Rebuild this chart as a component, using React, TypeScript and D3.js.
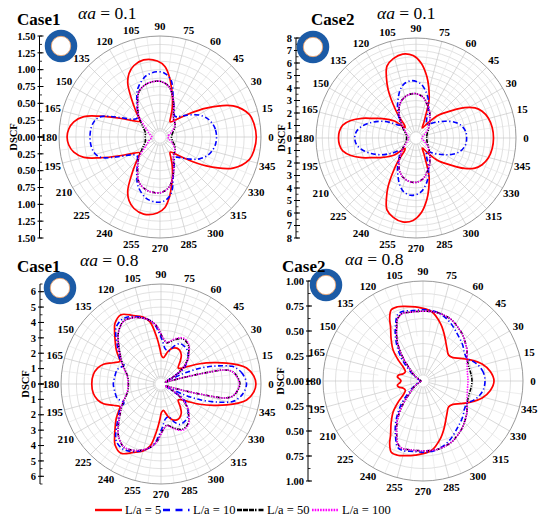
import React from "react";
import * as d3 from "d3";

type Pt = [number, number];

// ---------- data (angle in degrees 0..180, DSCF value); lower half mirrors upper half ----------
const angleTicks = d3.range(0, 360, 15);
const seriesNames = ["L/a = 5", "L/a = 10", "L/a = 50", "L/a = 100"];

// Case1, alpha a = 0.1
const p1L5: Pt[] = [[0,1.43],[8,1.41],[14,1.37],[23,1.18],[32,0.81],[40,0.51],[48,0.34],[56,0.27],[62,0.34],[66,0.44],[72,0.6],[76,0.72],[81,0.9],[86,1.05],[92,1.13],[102,1.17],[110,1.13],[116,1.05],[121,0.93],[127,0.7],[132,0.55],[137,0.44],[142,0.38],[148,0.45],[155,0.66],[161,0.95],[165,1.17],[170,1.3],[175,1.36],[180,1.38]];
const p1L10: Pt[] = [[0,0.84],[8,0.83],[15,0.8],[22,0.75],[29,0.67],[36,0.56],[43,0.46],[50,0.39],[55,0.38],[62,0.45],[70,0.58],[79,0.86],[86,0.95],[93,0.97],[103,0.93],[114,0.8],[120,0.69],[126,0.58],[134,0.48],[141,0.44],[148,0.5],[154,0.66],[161,0.93],[166,1.0],[172,1.03],[180,1.04]];
const p1L50: Pt[] = [[0,0.17],[10,0.18],[22,0.21],[32,0.26],[42,0.3],[52,0.33],[60,0.4],[66,0.5],[72,0.62],[80,0.76],[88,0.82],[95,0.83],[105,0.81],[115,0.74],[125,0.58],[135,0.45],[145,0.33],[153,0.27],[162,0.23],[170,0.22],[180,0.22]];
const p1L100: Pt[] = [[0,0.12],[10,0.13],[22,0.18],[32,0.24],[42,0.3],[52,0.33],[60,0.4],[66,0.5],[72,0.62],[80,0.76],[88,0.82],[95,0.83],[105,0.81],[115,0.74],[125,0.58],[135,0.45],[145,0.28],[153,0.21],[162,0.17],[170,0.14],[180,0.12]];

// Case2, alpha a = 0.1
const p2L5: Pt[] = [[0,6.2],[8,6.15],[15.5,6.0],[22,5.7],[27,5.3],[32,4.6],[36,3.86],[41,3.1],[46,2.5],[52,1.5],[58,0.95],[64,1.5],[71,3.2],[76,4.2],[80,5.0],[86,6.0],[92,6.6],[99,6.8],[106,6.6],[112,6.2],[116,5.4],[120,4.45],[124,3.3],[128,2.3],[133,1.3],[137,1.2],[142,2.2],[150,3.1],[155,3.7],[160,4.6],[165,5.4],[170,5.95],[175,6.15],[180,6.2]];
const p2L10: Pt[] = [[0,4.05],[8,4.0],[17,3.68],[24,3.2],[30,2.67],[36,2.2],[42,1.8],[51,1.4],[60,1.7],[66,2.4],[72,3.2],[78,3.8],[85,4.35],[94,4.6],[102,4.45],[108,4.07],[115,3.4],[123,2.7],[132,2.0],[141,1.65],[148,2.3],[154,3.05],[161,3.8],[168,4.44],[174,4.8],[180,4.9]];
const p2L50: Pt[] = [[0,0.86],[10,0.88],[20,0.95],[30,1.1],[40,1.35],[50,1.7],[58,2.1],[65,2.5],[72,2.85],[80,3.3],[90,3.55],[100,3.5],[110,3.25],[118,2.85],[125,2.35],[132,1.85],[140,1.45],[150,1.05],[160,0.85],[170,0.78],[180,0.75]];
const p2L100: Pt[] = [[0,0.45],[10,0.52],[20,0.68],[30,0.95],[40,1.3],[50,1.7],[58,2.1],[65,2.5],[72,2.85],[80,3.3],[90,3.55],[100,3.5],[110,3.25],[118,2.85],[125,2.35],[132,1.85],[140,1.4],[150,0.95],[160,0.75],[170,0.62],[180,0.6]];

// Case1, alpha a = 0.8
const p3L5: Pt[] = [[0,6.17],[5,6.05],[10.6,5.66],[14,5.15],[17.7,4.48],[22,3.7],[27.5,2.85],[33,2.1],[38,1.65],[43,1.53],[50,1.95],[55,2.3],[61,2.5],[66,2.55],[72,2.45],[78,2.15],[85,1.72],[89,1.85],[92,2.34],[95,3.0],[100,4.1],[105,4.5],[112,4.8],[120,5.2],[127,4.96],[131,4.6],[136,4.15],[142,3.7],[147,3.3],[151,3.05],[156,3.4],[161,3.95],[166,4.25],[172,4.44],[180,4.5]];
const p3L10: Pt[] = [[0,5.56],[7,5.35],[12,5.0],[14,4.75],[18,3.8],[22,2.74],[25,1.6],[28,0.5],[31,0.9],[34,1.75],[40,2.2],[45,2.5],[52,2.78],[58,2.88],[65,2.9],[71,2.6],[77,2.2],[83,2.3],[88,2.8],[92,3.3],[96,3.87],[100,4.2],[106,4.5],[114,4.8],[121,4.9],[128,4.72],[132,4.4],[137,3.92],[143,3.45],[149,3.1],[153,2.7],[158,2.85],[162,3.0],[172,3.05],[180,3.1]];
const p3L50: Pt[] = [[0,5.13],[6,4.95],[10,4.7],[12.5,4.2],[14,3.0],[16,1.6],[19,0.6],[24,0.3],[30,0.9],[35,1.6],[42,2.3],[48,2.68],[55,3.1],[64,3.26],[72,3.05],[78,2.8],[82,2.7],[87,2.95],[91,3.35],[94,3.75],[100,4.2],[107,4.5],[114,4.7],[121,4.75],[130,4.32],[136,3.85],[143,3.34],[149,3.0],[155,2.7],[160,2.45],[166,2.25],[172,2.15],[180,2.12]];
const p3L100: Pt[] = [[0,5.1],[6,4.93],[10,4.68],[12.5,4.2],[14,3.0],[16,1.6],[19,0.6],[24,0.3],[30,0.95],[35,1.65],[42,2.35],[48,2.72],[55,3.15],[64,3.32],[72,3.1],[78,2.84],[82,2.72],[87,2.97],[91,3.37],[94,3.75],[100,4.2],[107,4.5],[114,4.7],[121,4.74],[130,4.32],[136,3.86],[143,3.36],[149,3.02],[155,2.73],[160,2.48],[166,2.28],[172,2.18],[180,2.15]];

// Case2, alpha a = 0.8
const p4L5: Pt[] = [[0,0.71],[8,0.68],[16,0.615],[24,0.52],[31,0.44],[38,0.38],[45,0.363],[53,0.4],[61,0.464],[67,0.53],[73,0.6],[83,0.7],[96,0.745],[104,0.77],[109,0.785],[114,0.78],[118,0.71],[121,0.63],[127,0.53],[134,0.43],[140,0.32],[145,0.24],[152,0.2],[160,0.21],[166,0.25],[171,0.26],[176,0.23],[180,0.22]];
const p4L10: Pt[] = [[0,0.62],[8,0.61],[15,0.58],[21,0.54],[27,0.495],[34,0.5],[42,0.535],[54,0.583],[66,0.65],[78,0.7],[88,0.713],[98,0.711],[106,0.725],[111,0.71],[117,0.607],[122,0.52],[127,0.428],[133,0.32],[139,0.213],[146,0.13],[155,0.07],[168,0.035],[180,0.03]];
const p4L50: Pt[] = [[0,0.49],[8,0.485],[16,0.48],[27,0.494],[35,0.537],[43,0.575],[50.6,0.614],[58,0.645],[64.5,0.673],[72,0.69],[80,0.7],[93.6,0.698],[101,0.7],[107,0.706],[112,0.675],[116,0.6],[121,0.51],[125.6,0.418],[131,0.3],[136,0.2],[143,0.13],[150,0.08],[165,0.03],[180,0.02]];
const p4L100: Pt[] = [[0,0.45],[8,0.45],[16,0.46],[27,0.494],[35,0.537],[43,0.575],[50.6,0.614],[58,0.645],[64.5,0.673],[72,0.69],[80,0.7],[93.6,0.698],[101,0.7],[107,0.706],[112,0.675],[116,0.6],[121,0.51],[125.6,0.418],[131,0.3],[136,0.2],[143,0.13],[150,0.08],[165,0.03],[180,0.02]];

const p1Ticks = [0, 0.25, 0.5, 0.75, 1.0, 1.25, 1.5];
const p2Ticks = [0, 1, 2, 3, 4, 5, 6, 7, 8];
const p3Ticks = [0, 1, 2, 3, 4, 5, 6];
const p4Ticks = [0, 0.25, 0.5, 0.75, 1.0];

// ---------- styling / layout ----------
const COLORS = ["#ff0000", "#0000ff", "#000000", "#ff00ff"];
const DASH = ["", "5,2.5,1.2,2.5", "4,1.3,1.2,1.3,1.2,1.3", "1.4,1.2"];
const SERIF = "'Liberation Serif', 'Times New Roman', serif";

interface Panel {
  cx: number; cy: number; R: number; max: number; step: number;
  ticks: number[]; fmt: (v: number) => string;
  series: Pt[][]; caseLabel: string; alpha: string;
  axisX: number; dscfX: number; ringX: number; ringY: number;
  caseX: number; caseY: number; alphaX: number; alphaY: number;
}

const f2 = d3.format(".2f");
const f0 = d3.format("d");

const PANELS: Panel[] = [
  { cx: 160, cy: 137, R: 101, max: 1.5, step: 0.125, ticks: p1Ticks, fmt: f2,
    series: [p1L5, p1L10, p1L50, p1L100], caseLabel: "Case1", alpha: "0.1",
    axisX: 39.5, dscfX: 13, ringX: 61, ringY: 46, caseX: 17, caseY: 25, alphaX: 78, alphaY: 19 },
  { cx: 416, cy: 138, R: 100, max: 8, step: 0.5, ticks: p2Ticks, fmt: f0,
    series: [p2L5, p2L10, p2L50, p2L100], caseLabel: "Case2", alpha: "0.1",
    axisX: 296, dscfX: 281, ringX: 313, ringY: 47, caseX: 311, caseY: 25, alphaX: 377, alphaY: 19 },
  { cx: 161, cy: 384, R: 100, max: 6.5, step: 0.5, ticks: p3Ticks, fmt: f0,
    series: [p3L5, p3L10, p3L50, p3L100], caseLabel: "Case1", alpha: "0.8",
    axisX: 40, dscfX: 25, ringX: 60, ringY: 288, caseX: 17, caseY: 272, alphaX: 80, alphaY: 266 },
  { cx: 423, cy: 381, R: 100, max: 1.0, step: 0.125, ticks: p4Ticks, fmt: f2,
    series: [p4L5, p4L10, p4L50, p4L100], caseLabel: "Case2", alpha: "0.8",
    axisX: 308, dscfX: 280, ringX: 326, ringY: 285, caseX: 282, caseY: 272, alphaX: 345, alphaY: 265 },
];

const mirror = (half: Pt[]): Pt[] =>
  half.concat(half.slice(1, -1).reverse().map(([a, v]) => [360 - a, v] as Pt));

function PolarPanel({ p }: { p: Panel }) {
  const rs = d3.scaleLinear().domain([0, p.max]).range([0, p.R]);
  const line = d3
    .lineRadial<Pt>()
    .angle((d) => ((90 - d[0]) * Math.PI) / 180)
    .radius((d) => rs(d[1]))
    .curve(d3.curveCatmullRomClosed.alpha(0.5));
  const rings = d3.range(p.step, p.max - 1e-6, p.step);
  const minorAngles = d3.range(7.5, 360, 15);
  const hole = 6;
  const axisMinor = d3.range(0, p.max + 1e-6, p.step);
  const rad = (a: number) => (a * Math.PI) / 180;
  return (
    <g>
      <g transform={`translate(${p.cx},${p.cy})`}>
        {rings.map((v, i) => (
          <circle key={i} r={rs(v)} fill="none" stroke="#d4d4d4" strokeWidth={0.7} />
        ))}
        {minorAngles.map((a) => (
          <line key={"m" + a} x1={p.R * 0.45 * Math.cos(rad(a))} y1={-p.R * 0.45 * Math.sin(rad(a))}
            x2={p.R * Math.cos(rad(a))} y2={-p.R * Math.sin(rad(a))} stroke="#e2e2e2" strokeWidth={0.6} />
        ))}
        {angleTicks.map((a) => (
          <line key={a} x1={hole * Math.cos(rad(a))} y1={-hole * Math.sin(rad(a))}
            x2={p.R * Math.cos(rad(a))} y2={-p.R * Math.sin(rad(a))} stroke="#c8c8c8" strokeWidth={0.7} />
        ))}
        <circle r={hole} fill="#fff" stroke="#d4d4d4" strokeWidth={0.6} />
        <circle r={p.R} fill="none" stroke="#9a9a9a" strokeWidth={1} />
        {p.series.map((s, i) => (
          <path key={i} d={line(mirror(s)) || ""} fill="none" stroke={COLORS[i]}
            strokeWidth={i === 0 ? 1.7 : 1.6} strokeDasharray={DASH[i] || undefined} />
        ))}
        {angleTicks.map((a) => (
          <text key={"t" + a} x={(p.R + 10) * Math.cos(rad(a))} y={-(p.R + 10) * Math.sin(rad(a))}
            dy="0.35em" textAnchor="middle" fontFamily={SERIF} fontWeight="bold" fontSize={11}>
            {a}
          </text>
        ))}
      </g>
      <line x1={p.axisX} x2={p.axisX} y1={p.cy - p.R} y2={p.cy + p.R} stroke="#000" strokeWidth={1} />
      {axisMinor.map((v, i) => (
        <g key={"am" + i}>
          <line x1={p.axisX} x2={p.axisX + 2.5} y1={p.cy - rs(v)} y2={p.cy - rs(v)} stroke="#000" strokeWidth={0.8} />
          <line x1={p.axisX} x2={p.axisX + 2.5} y1={p.cy + rs(v)} y2={p.cy + rs(v)} stroke="#000" strokeWidth={0.8} />
        </g>
      ))}
      {p.ticks.map((v, i) => (
        <g key={"at" + i}>
          <line x1={p.axisX - 2} x2={p.axisX + 4} y1={p.cy - rs(v)} y2={p.cy - rs(v)} stroke="#000" strokeWidth={1} />
          <line x1={p.axisX - 2} x2={p.axisX + 4} y1={p.cy + rs(v)} y2={p.cy + rs(v)} stroke="#000" strokeWidth={1} />
          <text x={p.axisX - 4} y={p.cy - rs(v)} dy="0.35em" textAnchor="end" fontFamily={SERIF} fontWeight="bold" fontSize={10.5}>
            {p.fmt(v)}
          </text>
          {v > 0 && (
            <text x={p.axisX - 4} y={p.cy + rs(v)} dy="0.35em" textAnchor="end" fontFamily={SERIF} fontWeight="bold" fontSize={10.5}>
              {p.fmt(v)}
            </text>
          )}
        </g>
      ))}
      <text transform={`translate(${p.dscfX},${p.cy}) rotate(-90)`} dy="0.35em" textAnchor="middle"
        fontFamily={SERIF} fontWeight="bold" fontSize={10.5}>DSCF</text>
      <circle cx={p.ringX} cy={p.ringY} r={13} fill="#fff" stroke="#1c5ba6" strokeWidth={6.5} />
      <circle cx={p.ringX} cy={p.ringY} r={9.7} fill="none" stroke="#e9a36f" strokeWidth={0.9} />
      <text x={p.caseX} y={p.caseY} fontFamily={SERIF} fontWeight="bold" fontSize={17}>{p.caseLabel}</text>
      <text x={p.alphaX} y={p.alphaY} fontFamily={SERIF} fontSize={17.5}>
        <tspan fontStyle="italic">α</tspan><tspan fontStyle="italic">a</tspan>
        <tspan> = {p.alpha}</tspan>
      </text>
    </g>
  );
}

const LEGEND_DASH = ["", "7,5.5,7,5.5,1.5,4", "5,1,5,1,5,1,1.5,2", "1.6,1.1"];
const legendX = [95, 163, 237, 312];

export default function App() {
  return (
    <div style={{ position: "absolute", left: 0, top: 0 }}>
      <svg width={550} height={524} viewBox="0 0 550 524" style={{ display: "block", background: "#fff" }}>
        <rect width={550} height={524} fill="#fff" />
        {PANELS.map((p, i) => (
          <PolarPanel key={i} p={p} />
        ))}
        {seriesNames.map((n, i) => (
          <g key={n}>
            <line x1={legendX[i]} x2={legendX[i] + 27} y1={510} y2={510} stroke={COLORS[i]}
              strokeWidth={2.4} strokeDasharray={LEGEND_DASH[i] || undefined} />
            <text x={legendX[i] + 30} y={510} dy="0.35em" fontFamily={SERIF} fontSize={12.5}>{n}</text>
          </g>
        ))}
      </svg>
    </div>
  );
}
